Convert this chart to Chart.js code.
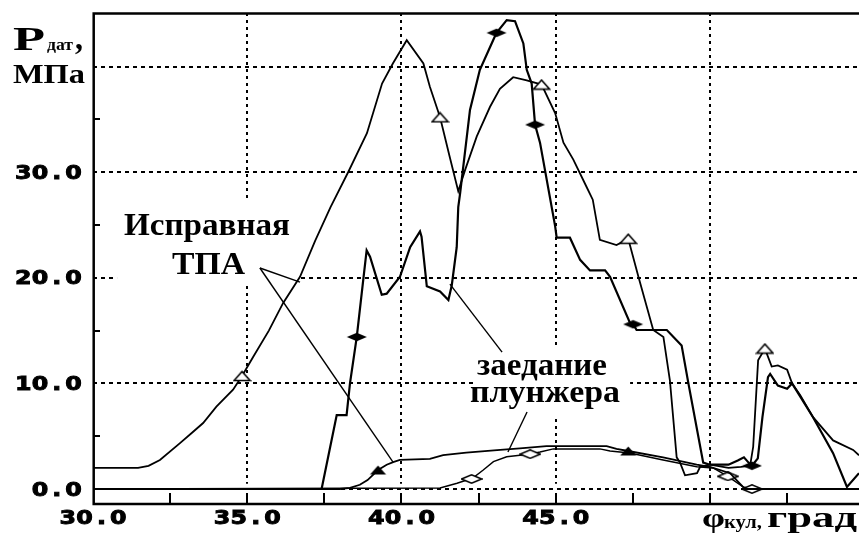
<!DOCTYPE html>
<html lang="ru">
<head>
<meta charset="UTF-8">
<title>Давление датчика</title>
<script src="https://cdn.jsdelivr.net/npm/chart.js"></script>
<style>
    body { margin: 0; background: #fff; }
    .wrap { width: 859px; height: 537px; position: relative; }
</style>
</head>
<body>
<div class="wrap"><canvas id="pressureChart"></canvas></div>
<script>
// Исправная ТПА, верхняя кривая (светлые треугольники)
const xA = [30.0, 31.46, 31.8, 32.17, 32.82, 33.2, 33.57, 34.0, 34.54, 34.83, 35.19, 35.7, 36.16, 36.71, 37.2, 37.7,
    38.27, 38.88, 39.37, 39.72, 40.17, 40.71, 40.92, 41.25, 41.55, 41.84, 42.06, 42.44, 42.87, 43.19, 43.62, 44.06,
    44.54, 44.98, 45.25, 45.57, 46.0, 46.2, 46.43, 46.97, 47.35, 47.68, 48.16, 48.49, 48.7, 48.92, 49.03, 49.19,
    49.58, 49.68, 50.0, 50.6, 51.0, 51.3, 51.4, 51.56, 51.78, 52.0, 52.2, 52.5, 52.66, 52.92, 53.34, 53.99, 54.64, 54.83];
const yA = [2.0, 2.0, 2.2, 2.75, 4.35, 5.3, 6.25, 7.8, 9.4, 10.7, 12.5, 15.0, 17.6, 20.1, 23.5, 26.7,
    30.0, 33.7, 38.4, 40.3, 42.5, 40.3, 38.1, 35.2, 31.6, 28.2, 30.2, 33.4, 36.2, 37.9, 39.0, 38.7,
    38.3, 35.6, 32.8, 31.2, 28.6, 27.4, 23.6, 23.1, 23.7, 20.1, 15.06, 14.4, 10.3, 3.0, 2.5, 1.3,
    1.5, 2.1, 2.3, 2.0, 2.1, 2.2, 4.0, 12.2, 13.3, 11.6, 11.7, 11.3, 10.0, 8.9, 6.8, 4.6, 3.7, 3.2];
const markA = [34.83, 41.25, 44.54, 47.35, 51.78];

// Исправная ТПА, нижняя кривая (тёмные треугольники)
const xB = [30.0, 38.0, 38.33, 38.65, 38.9, 39.24, 39.52, 39.73, 39.95, 40.92, 41.35, 42.1, 43.2, 43.84, 44.7,
    46.65, 46.97, 47.35, 48.48, 49.57, 50.0, 50.65, 51.07, 51.13, 54.83];
const yB = [0.0, 0.0, 0.1, 0.4, 0.85, 1.8, 2.3, 2.55, 2.75, 2.85, 3.2, 3.45, 3.7, 3.85, 4.07,
    4.07, 3.8, 3.6, 3.0, 2.3, 2.1, 1.5, 0.2, 0.0, 0.0];
const markB = [39.24, 47.35];

// заедание плунжера, верхняя кривая (тёмные ромбы)
const xC = [37.41, 37.9, 38.22, 38.33, 38.55, 38.76, 38.87, 38.98, 39.36, 39.52, 39.95, 40.28, 40.6, 40.65, 40.82,
    41.25, 41.52, 41.63, 41.79, 41.84, 41.9, 42.22, 42.54, 42.97, 43.08, 43.41, 43.68, 43.95, 44.06, 44.22, 44.33,
    44.49, 44.98, 45.03, 45.46, 45.79, 46.11, 46.6, 46.76, 47.41, 47.51, 47.62, 48.16, 48.6, 49.08, 49.3, 49.78,
    50.0, 50.6, 50.9, 51.1, 51.25, 51.36, 51.55, 51.7, 51.88, 51.95, 52.2, 52.5, 52.66, 53.34, 53.99, 54.44, 54.83];
const yC = [0.0, 7.0, 7.0, 10.0, 14.4, 19.8, 22.6, 22.0, 18.4, 18.5, 20.1, 22.9, 24.4, 23.9, 19.2,
    18.7, 17.9, 19.3, 22.9, 26.7, 28.0, 35.9, 39.7, 42.5, 43.2, 44.4, 44.3, 42.2, 39.7, 38.4, 34.5,
    32.8, 24.9, 23.8, 23.8, 21.7, 20.7, 20.7, 20.1, 15.7, 15.6, 15.06, 15.06, 15.06, 13.6, 10.0, 2.5,
    2.3, 2.3, 2.7, 3.0, 2.5, 2.2, 2.9, 6.8, 10.6, 10.9, 9.8, 9.5, 10.0, 6.8, 3.4, 0.2, 1.5];
const markC = [38.55, 43.08, 44.33, 47.51, 51.36];

// заедание плунжера, нижняя кривая (светлые ромбы)
const xD = [30.0, 41.25, 41.8, 42.12, 42.27, 42.65, 42.98, 43.41, 43.84, 44.17, 44.49, 44.92, 46.43, 46.76, 47.4,
    48.48, 49.57, 50.1, 50.58, 51.07, 51.36, 54.83];
const yD = [0.0, 0.1, 0.55, 0.85, 0.95, 1.8, 2.6, 3.05, 3.2, 3.3, 3.5, 3.8, 3.8, 3.6, 3.4,
    2.75, 2.1, 2.0, 1.2, 0.2, 0.0, 0.0];
const markD = [42.27, 44.17, 50.58, 51.36];

// оси
const xGrid = [35, 40, 45, 50];
const yGrid = [0, 10, 20, 30, 40];
const xMinor = [32.5, 35, 37.5, 40, 42.5, 45, 47.5, 50, 52.5];
const yMinor = [5, 15, 25, 35];
const xTickVals = [30, 35, 40, 45];
const xTickText = ['30.0', '35.0', '40.0', '45.0'];
const yTickVals = [0, 10, 20, 30];
const yTickText = ['0.0', '10.0', '20.0', '30.0'];

// маркеры
function marker(kind) {
    const c = document.createElement('canvas');
    const g = c.getContext('2d');
    const tri = kind.indexOf('Tri') > 0;
    c.width = tri ? 19 : 22;
    c.height = tri ? 12 : 10;
    const w = c.width, h = c.height;
    g.beginPath();
    if (tri) {
        g.moveTo(1.5, h - 1.5); g.lineTo(w / 2, 1.5); g.lineTo(w - 1.5, h - 1.5);
    } else {
        g.moveTo(1, h / 2); g.lineTo(w / 2, 0.8); g.lineTo(w - 1, h / 2); g.lineTo(w / 2, h - 0.8);
    }
    g.closePath();
    if (kind.startsWith('open')) {
        g.fillStyle = '#fff'; g.fill();
        g.strokeStyle = '#000'; g.lineWidth = 1.5; g.stroke();
    } else {
        g.fillStyle = '#000'; g.fill();
    }
    return c;
}

function series(xs, ys, marks, style, width) {
    return {
        data: xs.map((x, i) => ({x: x, y: ys[i]})),
        borderColor: '#000',
        borderWidth: width,
        tension: 0,
        fill: false,
        pointStyle: style,
        pointRadius: c => (c.raw && marks.includes(c.raw.x)) ? 7 : 0,
        pointHoverRadius: 0
    };
}

function fitText(ctx, text, x, base, width, font) {
    ctx.font = font;
    const w = ctx.measureText(text).width;
    ctx.save();
    ctx.translate(x, base);
    ctx.scale(width / w, 1);
    ctx.fillText(text, 0, 0);
    ctx.restore();
}

// цифры шкал: моноширинные ячейки, жирное начертание
function monoText(ctx, text, left, base) {
    const slot = 16.8;
    ctx.font = 'bold 19px "DejaVu Sans"';
    ctx.lineWidth = 0.9;
    ctx.strokeStyle = '#000';
    for (let i = 0; i < text.length; i++) {
        ctx.save();
        ctx.translate(left + slot * i + slot / 2, base);
        ctx.scale(1.25, 1);
        ctx.textAlign = 'center';
        ctx.fillText(text[i], 0, 0);
        ctx.strokeText(text[i], 0, 0);
        ctx.restore();
    }
}

const decor = {
    id: 'decor',
    beforeDatasetsDraw(chart) {
        const {ctx, chartArea: a, scales: {x, y}} = chart;
        ctx.save();
        ctx.strokeStyle = '#000';
        ctx.lineWidth = 2;
        ctx.setLineDash([4, 4]);
        yGrid.forEach(v => {
            const py = Math.round(y.getPixelForValue(v));
            ctx.beginPath(); ctx.moveTo(a.left, py); ctx.lineTo(a.right, py); ctx.stroke();
        });
        ctx.setLineDash([3, 4]);
        xGrid.forEach(v => {
            const px = Math.round(x.getPixelForValue(v));
            ctx.beginPath(); ctx.moveTo(px, a.top); ctx.lineTo(px, y.getPixelForValue(0.5)); ctx.stroke();
        });
        ctx.setLineDash([]);
        // подложки под надписи
        ctx.fillStyle = '#fff';
        [[30.78, 36.71, 27.4, 19.6], [42.32, 47.41, 13.45, 6.82]].forEach(b => {
            const x1 = x.getPixelForValue(b[0]), x2 = x.getPixelForValue(b[1]);
            const y1 = y.getPixelForValue(b[2]), y2 = y.getPixelForValue(b[3]);
            ctx.fillRect(x1, y1, x2 - x1, y2 - y1);
        });
        // засечки
        xMinor.forEach(v => {
            const px = Math.round(x.getPixelForValue(v));
            ctx.beginPath(); ctx.moveTo(px, a.bottom); ctx.lineTo(px, a.bottom - 11); ctx.stroke();
        });
        yMinor.forEach(v => {
            const py = Math.round(y.getPixelForValue(v));
            ctx.beginPath(); ctx.moveTo(a.left, py); ctx.lineTo(a.left + 7, py); ctx.stroke();
        });
        ctx.restore();
    },
    afterDatasetsDraw(chart) {
        const {ctx, chartArea: a, scales: {x, y}} = chart;
        ctx.save();
        // рамка
        ctx.strokeStyle = '#000';
        ctx.lineWidth = 2.5;
        ctx.beginPath();
        ctx.moveTo(a.right, a.top + 0.5);
        ctx.lineTo(a.left + 0.7, a.top + 0.5);
        ctx.lineTo(a.left + 0.7, a.bottom);
        ctx.lineTo(a.right, a.bottom);
        ctx.stroke();

        // выноски
        ctx.lineWidth = 1.4;
        [[35.41, 20.93, 36.71, 19.6], [35.41, 20.93, 39.72, 2.56],
         [43.26, 12.97, 41.57, 19.41], [44.07, 7.29, 43.45, 3.5]].forEach(p => {
            ctx.beginPath();
            ctx.moveTo(x.getPixelForValue(p[0]), y.getPixelForValue(p[1]));
            ctx.lineTo(x.getPixelForValue(p[2]), y.getPixelForValue(p[3]));
            ctx.stroke();
        });

        ctx.fillStyle = '#000';
        ctx.textBaseline = 'alphabetic';
        ctx.textAlign = 'left';
        // подписи шкал
        xTickVals.forEach((v, i) => {
            const w = xTickText[i].length * 16.8;
            monoText(ctx, xTickText[i], x.getPixelForValue(v) - w / 2, 524);
        });
        yTickVals.forEach((v, i) => {
            const w = yTickText[i].length * 16.8;
            monoText(ctx, yTickText[i], 82 - w, y.getPixelForValue(v) + 6.5);
        });

        // заголовки осей
        const serif = '"Liberation Serif", "DejaVu Serif", serif';
        ctx.textAlign = 'left';
        fitText(ctx, 'Р', 13, 50, 32, 'bold 33px ' + serif);
        fitText(ctx, 'дат', 47, 50, 26, 'bold 17px ' + serif);
        fitText(ctx, ',', 75, 49, 8, 'bold 33px ' + serif);
        fitText(ctx, 'МПа', 13, 83, 72, 'bold 27px ' + serif);
        fitText(ctx, 'φ', 702, 527, 23, 'bold 28px ' + serif);
        fitText(ctx, 'кул,', 724, 528, 38, 'bold 19px ' + serif);
        fitText(ctx, 'град', 767, 527, 90, 'bold 30px ' + serif);

        // надписи на поле
        fitText(ctx, 'Исправная', 124, 235, 166, 'bold 32px ' + serif);
        fitText(ctx, 'ТПА', 172, 274, 73, 'bold 32px ' + serif);
        fitText(ctx, 'заедание', 477, 375, 130, 'bold 31px ' + serif);
        fitText(ctx, 'плунжера', 470, 402, 150, 'bold 31px ' + serif);
        ctx.restore();
    }
};

const ctx = document.getElementById('pressureChart').getContext('2d');
const pressureChart = new Chart(ctx, {
    type: 'line',
    data: {
        datasets: [
            series(xA, yA, markA, marker('openTri'), 1.8),
            series(xC, yC, markC, marker('fillDiamond'), 2.2),
            series(xB, yB, markB, marker('fillTri'), 1.8),
            series(xD, yD, markD, marker('openDiamond'), 1.5)
        ]
    },
    options: {
        responsive: true,
        maintainAspectRatio: false,
        animation: false,
        events: [],
        layout: { padding: { left: 93, top: 13, right: 0, bottom: 33 } },
        plugins: {
            legend: { display: false },
            tooltip: { enabled: false }
        },
        scales: {
            x: { type: 'linear', min: 30, max: 54.83, display: false },
            y: { type: 'linear', min: -1.42, max: 45.08, display: false }
        }
    },
    plugins: [decor]
});
</script>
</body>
</html>
